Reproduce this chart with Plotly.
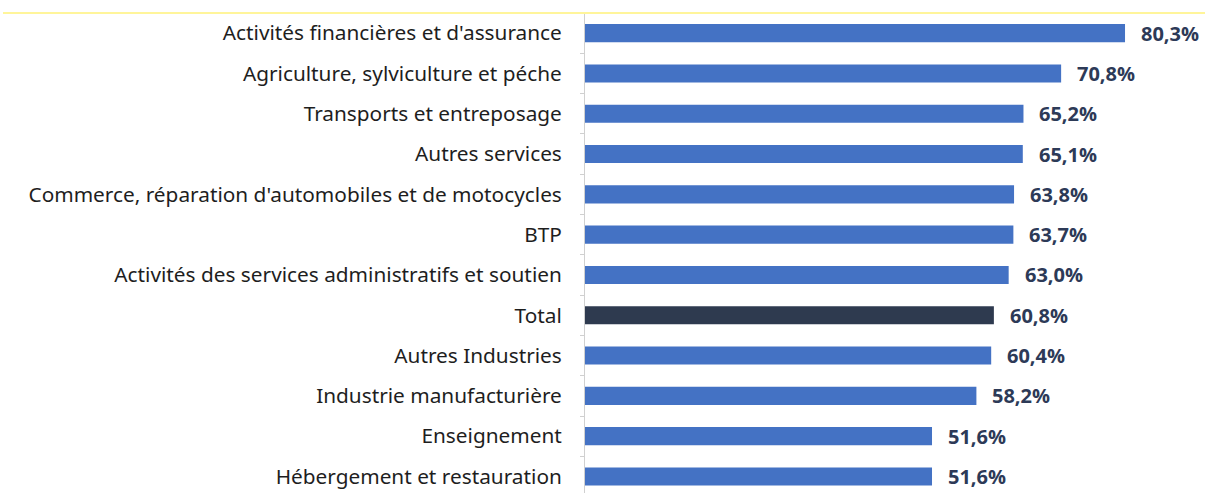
import plotly.graph_objects as go

# Secteurs d'activité, du plus élevé au plus bas
categories = [
    "Activités financières et d'assurance",
    "Agriculture, sylviculture et péche",
    "Transports et entreposage",
    "Autres services",
    "Commerce, réparation d'automobiles et de motocycles",
    "BTP",
    "Activités des services administratifs et soutien",
    "Total",
    "Autres Industries",
    "Industrie manufacturière",
    "Enseignement",
    "Hébergement et restauration",
]
values = [80.3, 70.8, 65.2, 65.1, 63.8, 63.7, 63.0, 60.8, 60.4, 58.2, 51.6, 51.6]

BLUE = "#4472C4"
DARK = "#2E3A4F"
colors = [DARK if c == "Total" else BLUE for c in categories]
labels = [f"{v:.1f}%".replace(".", ",") for v in values]

W, H = 1205, 493
ML, MR, MT, MB = 585, 10, 13, 0
px_per_unit = 6.725
px_per_cat = 40.3
x_max = (W - ML - MR) / px_per_unit
y_span = (H - MT - MB) / px_per_cat

fig = go.Figure(
    go.Bar(
        x=values,
        y=categories,
        orientation="h",
        marker=dict(color=colors, line=dict(width=0)),
        width=0.45,
        hoverinfo="skip",
    )
)

# Valeurs affichées à droite de chaque barre
value_annotations = [
    dict(
        x=v, y=c, text=t, xref="x", yref="y",
        xanchor="left", yanchor="middle", xshift=14, showarrow=False,
        font=dict(family="Open Sans", size=20, color="#2D3A57", weight="bold"),
    )
    for c, v, t in zip(categories, values, labels)
]

fig.update_layout(
    width=W,
    height=H,
    margin=dict(l=ML, r=MR, t=MT, b=MB, pad=0),
    paper_bgcolor="white",
    plot_bgcolor="white",
    showlegend=False,
    font=dict(family="Noto Sans", size=20, color="#1E1E1E"),
    annotations=value_annotations,
    shapes=[
        dict(type="line", xref="paper", yref="paper", x0=-ML / (W - ML - MR) + 3 / (W - ML - MR),
             x1=1 + MR / (W - ML - MR), y0=1, y1=1,
             line=dict(color="#FFF59A", width=2)),
    ],
)
fig.update_xaxes(range=[0, x_max], visible=False)
fig.update_yaxes(
    range=[-0.5 + y_span, -0.5],
    showline=True,
    linecolor="#D0D0D0",
    linewidth=1,
    ticks="outside",
    tickson="boundaries",
    ticklen=4,
    tickcolor="#D0D0D0",
    showgrid=False,
    ticklabelstandoff=18,
    tickfont=dict(family="Noto Sans", size=20.8, color="#1E1E1E"),
)

fig.write_html("out.html")
